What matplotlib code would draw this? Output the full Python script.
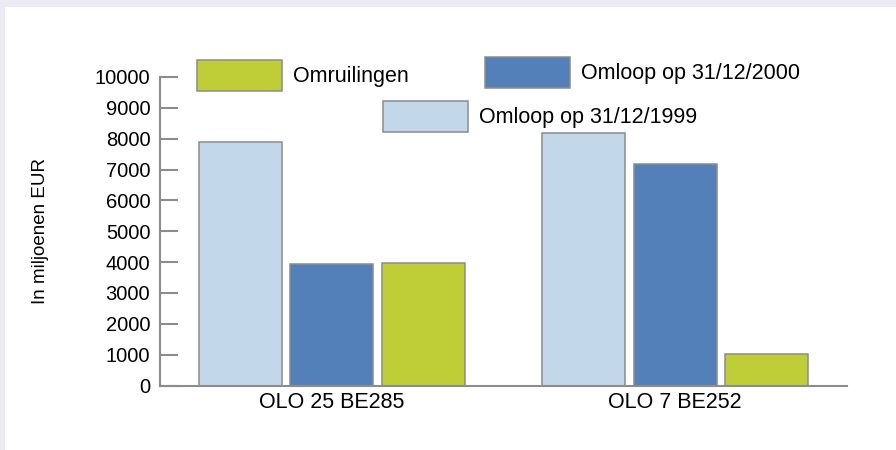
import numpy as np
import matplotlib.pyplot as plt
from matplotlib.patches import Rectangle, Patch

plt.rcParams['font.family'] = ['Liberation Sans', 'DejaVu Sans']

categories = ["OLO 25 BE285", "OLO 7 BE252"]
series_names = ["Omloop op 31/12/1999", "Omloop op 31/12/2000", "Omruilingen"]
omloop_1999 = [7900, 8180]
omloop_2000 = [3930, 7170]
omruilingen = [3980, 1020]
yticks = [0, 1000, 2000, 3000, 4000, 5000, 6000, 7000, 8000, 9000, 10000]

c_light = '#C3D7EB'
c_dark = '#5480B9'
c_green = '#BFCE37'
edge = '#8c8c8c'
W, H = 896, 450

fig = plt.figure(figsize=(8.96, 4.5), dpi=100, facecolor='#ECEBF5')
# white panel, lavender strip on top and left
fig.patches.append(Rectangle((5 / W, 0), 1, 1 - 7 / H, transform=fig.transFigure,
                             facecolor='white', edgecolor='none', zorder=-1))

ax = fig.add_axes([160 / W, 64.5 / H, 687 / W, 308.5 / H])
ax.set_facecolor('none')

x = np.arange(len(categories))
bw = 0.242
step = 0.2665
fs_tick = 14.5
fs_cat = 15.5
fs_leg = 15.5
ax.bar(x - step, omloop_1999, bw, color=c_light, edgecolor=edge, linewidth=1.1)
ax.bar(x, omloop_2000, bw, color=c_dark, edgecolor=edge, linewidth=1.1)
ax.bar(x + step, omruilingen, bw, color=c_green, edgecolor=edge, linewidth=1.1)

ax.set_xlim(-0.5, 1.5)
ax.set_ylim(0, 10000)
ax.set_yticks(yticks)
ax.set_yticklabels([str(v) for v in yticks], fontsize=fs_tick)
ax.set_xticks(x)
ax.set_xticklabels(categories, fontsize=fs_cat)
ax.tick_params(axis='y', direction='in', length=13, width=1.5, color=edge, pad=7)
ax.tick_params(axis='x', length=0, pad=5)
for s in ['top', 'right']:
    ax.spines[s].set_visible(False)
for s in ['left', 'bottom']:
    ax.spines[s].set_color(edge)
    ax.spines[s].set_linewidth(1.5)

ax.set_ylabel("In miljoenen EUR", fontsize=13.5)
ax.yaxis.set_label_coords(-0.162, 0.5)

# three separate legend entries, as in the original
fpx = fs_leg * 100 / 72
hl = 85 / fpx
hh = (31 / fpx - 0.245) / 0.65
entries = [(series_names[2], c_green, 197, 60),
           (series_names[1], c_dark, 485, 57),
           (series_names[0], c_light, 383, 101)]
for name, col, px, py in entries:
    fig.legend(handles=[Patch(facecolor=col, edgecolor=edge, linewidth=1.1, label=name)],
               loc='upper left', bbox_to_anchor=(px / W, 1 - py / H),
               bbox_transform=fig.transFigure, frameon=False, borderpad=0,
               borderaxespad=0, handlelength=hl, handleheight=hh,
               handletextpad=0.5, fontsize=fs_leg)

fig.savefig("out.png", dpi=100, facecolor=fig.get_facecolor())
